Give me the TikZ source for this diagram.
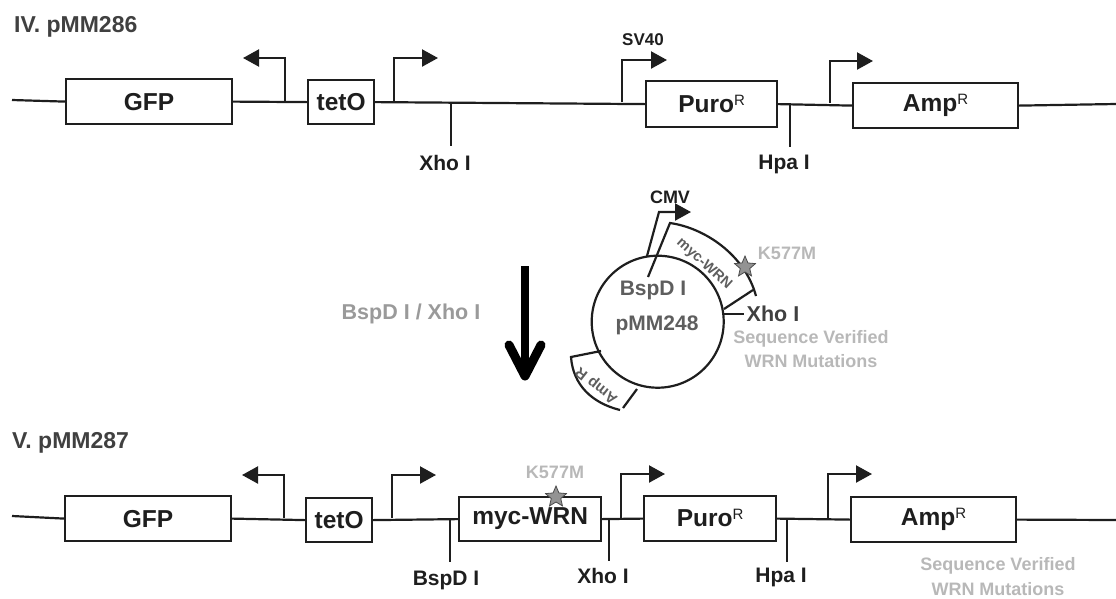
\documentclass[tikz,border=0pt]{standalone}
\usepackage{fontspec}
\setmainfont{Liberation Sans}
\usetikzlibrary{arrows.meta,shapes.geometric}
\definecolor{ink}{HTML}{1E1E1E}
\definecolor{midgray}{HTML}{5E5E5E}
\definecolor{softgray}{HTML}{B8B8B8}
\definecolor{labelgray}{HTML}{9A9A9A}
\tikzset{
  genebox/.style={draw=ink,line width=2.2pt,fill=white,anchor=north west,inner sep=0pt,font=\fontsize{24.5}{24.5}\selectfont\bfseries,text=ink},
  dna/.style={draw=ink,line width=2.2pt},
  promoter/.style={draw=ink,line width=2.2pt,-{Triangle[length=16pt,width=17pt]}},
  sitelabel/.style={font=\fontsize{21}{21}\selectfont\bfseries,text=ink,inner sep=0pt},
  title/.style={font=\fontsize{23}{23}\selectfont\bfseries,text=ink!85,inner sep=0pt,anchor=west},
  softlabel/.style={font=\fontsize{18}{18}\selectfont\bfseries,text=softgray,inner sep=0pt},
  midlabel/.style={font=\fontsize{21}{21}\selectfont\bfseries,text=midgray,inner sep=0pt},
  mutstar/.style={star,star points=5,star point ratio=2.2,minimum size=22pt,inner sep=0pt,draw=ink!80,line width=.8pt,fill=gray!85}
}
\newcommand{\supR}{\smash{\raisebox{7pt}{\fontsize{15}{15}\selectfont\mdseries R}}}
\newcommand{\genebox}[6]{\node[genebox,minimum width=#3pt,minimum height=#4pt] (#1) at (#2) {#5#6};}
\begin{document}
\begin{tikzpicture}[x=1pt,y=-1pt]
\useasboundingbox (0,0) rectangle (1116,598);
% ---- IV
\node[title] (t4) at (14,27) {IV. pMM286};
\coordinate (a0) at (12,100); \coordinate (a9) at (1116,104);
\genebox{a1}{65,78}{166}{45}{GFP}{}
\genebox{a2}{307,79}{66}{44}{tetO}{}
\genebox{a3}{645,80}{131}{46}{Puro}{\supR}
\genebox{a4}{852,82}{165}{45}{Amp}{\supR}
\draw[dna] (a0) -- (a1.west);
\draw[dna] (a1.east) -- (a2.west);
\draw[dna] (a2.east) -- (a3.west);
\draw[dna] (a3.east) -- (a4.west);
\draw[dna] (a4.east) -- (a9);
\coordinate (ap1) at (285,101); \coordinate (ae1) at (243,58);
\coordinate (ap2) at (394,102); \coordinate (ae2) at (438,58);
\coordinate (ap3) at (622,102); \coordinate (ae3) at (667,60);
\coordinate (ap4) at (830,103); \coordinate (ae4) at (873,61);
\draw[promoter] (ap1) |- (ae1);
\draw[promoter] (ap2) |- (ae2);
\draw[promoter] (ap3) |- (ae3);
\draw[promoter] (ap4) |- (ae4);
\node[font=\fontsize{17}{17}\selectfont\bfseries,text=ink,inner sep=0pt] (sv) at (643,40) {SV40};
\node[sitelabel] (ax) at (445,163) {Xho I};
\node[sitelabel] (ah) at (784,164) {Hpa I};
\coordinate (axt) at (451,102); \coordinate (axb) at (451,146);
\coordinate (aht) at (790,103); \coordinate (ahb) at (790,147);
\draw[dna] (axt) -- (axb);
\draw[dna] (aht) -- (ahb);
% ---- middle arrow
\node[midlabel,font=\fontsize{21.5}{21.5}\selectfont\bfseries,text=labelgray] (dig) at (411,314) {BspD I / Xho I};
\coordinate (ba) at (525,266); \coordinate (bt) at (525,376);
\coordinate (bl) at (509,345); \coordinate (br) at (541,345);
\draw[black,line width=8pt] (ba) -- (bt);
\draw[black,line width=9pt,line cap=round,line join=round] (bl) -- (bt) -- (br);
% ---- plasmid
\node[circle,draw=ink,line width=2.2pt,minimum size=132pt,inner sep=0pt] (plasmid) at (657.7,321.7) {};
\node[midlabel] (bsp) at (653,290) {BspD I};
\node[midlabel] (pm) at (657,325) {pMM248};
\coordinate (c1) at (647,256); \coordinate (c2) at (659,212); \coordinate (c3) at (691,212);
\draw[draw=ink,line width=2.2pt,-{Triangle[length=16pt,width=17pt]}] (c1) -- (c2) -- (c3);
\node[font=\fontsize{18}{18}\selectfont\bfseries,text=ink,inner sep=0pt] (cmv) at (670,197) {CMV};
\coordinate (m1) at (648,277); \coordinate (m2) at (670,223); \coordinate (m3) at (756,296);
\coordinate (m4) at (753,290); \coordinate (m5) at (724,309);
\draw[draw=ink,line width=2.2pt] (m1) -- (m2) .. controls (705,228) and (745,255) .. (m3);
\draw[draw=ink,line width=2.2pt] (m4) -- (m5);
\node[font=\fontsize{14.5}{14.5}\selectfont\bfseries,text=midgray,inner sep=0pt,rotate=-42] (mw) at (704,264) {myc-WRN};
\node[mutstar] (st1) at (745,267) {};
\node[font=\fontsize{18}{18}\selectfont\bfseries,text=softgray,inner sep=0pt] (k1) at (787,253) {K577M};
\coordinate (xa) at (724,314); \coordinate (xb) at (744,314);
\draw[draw=ink,line width=2.2pt] (xa) -- (xb);
\node[font=\fontsize{21.5}{21.5}\selectfont\bfseries,text=ink!85,inner sep=0pt] (xl) at (773,314) {Xho I};
\node[softlabel] (s1) at (811,339) {Sequence Verified};
\node[softlabel] (s2) at (811,361) {WRN Mutations};
\coordinate (r1) at (601,351); \coordinate (r2) at (571,357); \coordinate (r3) at (620,410); \coordinate (r4) at (637,389);
\draw[draw=ink,line width=2.2pt] (r1) -- (r2) .. controls (573,385) and (592,403) .. (r3);
\draw[draw=ink,line width=2.2pt] (r3) ++(3,-2) -- (r4);
\node[font=\fontsize{15}{15}\selectfont\bfseries,text=midgray,inner sep=0pt,rotate=142] (ar) at (597,385) {Amp R};
% ---- V
\node[title] (t5) at (12,443) {V. pMM287};
\coordinate (b0) at (12,516); \coordinate (b9) at (1116,520);
\genebox{b1}{64,495}{166}{45}{GFP}{}
\genebox{b2}{305,497}{66}{44}{tetO}{}
\genebox{b3}{458,496}{142}{44}{myc-WRN}{}
\genebox{b4}{643,495}{132}{45}{Puro}{\supR}
\genebox{b5}{850,496}{165}{45}{Amp}{\supR}
\draw[dna] (b0) -- (b1.west);
\draw[dna] (b1.east) -- (b2.west);
\draw[dna] (b2.east) -- (b3.west);
\draw[dna] (b3.east) -- (b4.west);
\draw[dna] (b4.east) -- (b5.west);
\draw[dna] (b5.east) -- (b9);
\coordinate (bp1) at (284,518); \coordinate (be1) at (242,475);
\coordinate (bp2) at (392,518); \coordinate (be2) at (436,475);
\coordinate (bp3) at (621,518); \coordinate (be3) at (665,474);
\coordinate (bp4) at (828,518); \coordinate (be4) at (872,474);
\draw[promoter] (bp1) |- (be1);
\draw[promoter] (bp2) |- (be2);
\draw[promoter] (bp3) |- (be3);
\draw[promoter] (bp4) |- (be4);
\coordinate (bbt) at (450,518); \coordinate (bbb) at (450,562);
\coordinate (bxt) at (609,518); \coordinate (bxb) at (609,561);
\coordinate (bht) at (787,518); \coordinate (bhb) at (787,562);
\draw[dna] (bbt) -- (bbb);
\draw[dna] (bxt) -- (bxb);
\draw[dna] (bht) -- (bhb);
\node[sitelabel] (bb) at (446,580) {BspD I};
\node[sitelabel] (bx) at (603,576) {Xho I};
\node[sitelabel] (bh) at (781,577) {Hpa I};
\node[font=\fontsize{18}{18}\selectfont\bfseries,text=softgray,inner sep=0pt] (k2) at (555,472) {K577M};
\node[mutstar] (st2) at (556,497) {};
\node[softlabel] (s3) at (998,566) {Sequence Verified};
\node[softlabel] (s4) at (998,589) {WRN Mutations};
\end{tikzpicture}
\end{document}
